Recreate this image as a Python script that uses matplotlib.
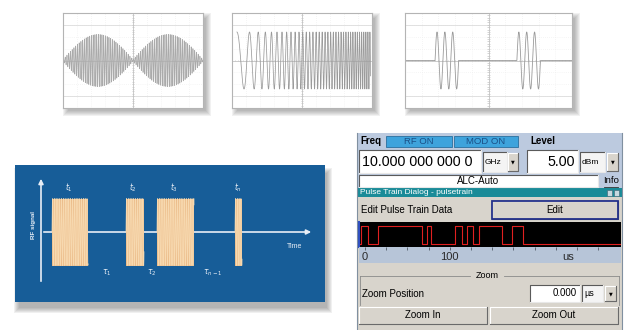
import numpy as np
import matplotlib.pyplot as plt
from matplotlib.patches import Rectangle
from matplotlib import font_manager

W, H = 624, 330

# --- scope 1: AM signal (x in divisions 0..10) ---
am_cycles_per_div = 8.0
am_floor = 0.08
am_peak = 2.2

# --- scope 2: chirp ---
chirp_start, chirp_end = 0.35, 9.9
chirp_f0, chirp_f1 = 0.82, 7.0     # cycles per division
chirp_amp = 2.4

# --- scope 3: bursts ---
burst_starts = [1.8, 6.7]
burst_cycles = 3
burst_period = 0.47
burst_amp = 2.4

# --- pulse diagram (blue panel, x in px from panel left) ---
pd_on = [(37, 73), (111, 129), (142, 179), (220, 227)]
pd_amp = 33.5
pd_carrier = 0.55              # cycles per px
pd_top_labels = [r'$t_1$', r'$t_2$', r'$t_3$', r'$t_n$']
pd_top_x = [54, 118, 159, 223]
pd_gap_labels = [r'$\tau_1$', r'$\tau_2$', r'$\tau_{n-1}$']
pd_gap_x = [92, 137, 198]

# --- pulse train trace in the dialog (µs) ---
trace_on = [(-5, 3.5), (15, 67), (73, 78), (106, 114), (120, 128), (135, 162), (174, 187)]
trace_ticks = [0, 25, 50, 75, 100, 125, 150, 175, 200, 225, 250, 275]
trace_label_pos = [0, 100, 240]
trace_labels = ['0', '100', 'us']

names = {f.name for f in font_manager.fontManager.ttflist}
narrow = 'Liberation Sans Narrow' in names
GUI = ['Liberation Sans', 'DejaVu Sans']
BIG = ['Liberation Sans Narrow', 'Liberation Sans', 'DejaVu Sans'] if narrow else GUI
big_size = 12.5 if narrow else 10.3

fig = plt.figure(figsize=(W / 100, H / 100), dpi=100)
ax = fig.add_axes([0, 0, 1, 1])
ax.set_xlim(0, W)
ax.set_ylim(H, 0)
ax.axis('off')


def px_axes(x0, y0, x1, y1, z=3):
    a = fig.add_axes([x0 / W, 1 - y1 / H, (x1 - x0) / W, (y1 - y0) / H])
    a.set_zorder(z)
    return a


def box(x0, y0, x1, y1, fc, ec='none', lw=0.8, z=2, alpha=1):
    ax.add_patch(Rectangle((x0, y0), x1 - x0, y1 - y0, facecolor=fc,
                           edgecolor=ec, lw=lw, zorder=z, alpha=alpha))


def shadow(x0, y0, x1, y1, dx=3, dy=4, a=0.07):
    for i in range(6):
        box(x0 + dx - i + 2, y0 + dy - i + 2, x1 + dx + i, y1 + dy + i,
            '#404040', z=1, alpha=a)


def raised(x0, y0, x1, y1, fc='#d8d4cc', z=4):
    box(x0, y0, x1, y1, fc, z=z)
    ax.plot([x0, x0, x1], [y1, y0, y0], color='white', lw=0.8, zorder=z + 0.1)
    ax.plot([x0, x1, x1], [y1, y1, y0], color='#6a6a6a', lw=0.8, zorder=z + 0.1)


def sunken(x0, y0, x1, y1, fc='white', z=4):
    box(x0, y0, x1, y1, fc, z=z)
    ax.plot([x0, x0, x1], [y1, y0, y0], color='#5a5a5a', lw=0.8, zorder=z + 0.1)
    ax.plot([x0, x1, x1], [y1, y1, y0], color='#e8e8e8', lw=0.8, zorder=z + 0.1)


def dropdown(x0, y0, x1, y1):
    raised(x0, y0, x1, y1)
    ax.text((x0 + x1) / 2, (y0 + y1) / 2, '▼', fontsize=3.5, ha='center',
            va='center', zorder=6, family=['DejaVu Sans'])


def scope(x0, y0, x1, y1):
    shadow(x0, y0, x1, y1, 3, 3)
    a = px_axes(x0, y0, x1, y1)
    a.set_xlim(0, 10)
    a.set_ylim(-4, 4)
    a.set_facecolor('white')
    for s in a.spines.values():
        s.set_color('#b4b4b4')
        s.set_linewidth(0.8)
    a.set_xticks([])
    a.set_yticks([])
    for g in range(1, 10):
        a.axvline(g, color='#ececec', lw=0.5, ls=(0, (1, 2)), zorder=0)
    for g in range(-3, 4):
        a.axhline(g, color='#ececec', lw=0.5, ls=(0, (1, 2)), zorder=0)
    a.axhline(3, color='#dcdcdc', lw=0.6, zorder=0)
    a.axhline(-3, color='#dcdcdc', lw=0.6, zorder=0)
    a.axvline(5, color='#c4c4c4', lw=0.6, zorder=0)
    a.axhline(0, color='#c4c4c4', lw=0.6, zorder=0)
    tk = np.arange(0, 10.01, 0.2)
    a.vlines(tk, -0.08, 0.08, color='#c4c4c4', lw=0.5, zorder=0)
    tk = np.arange(-4, 4.01, 0.2)
    a.hlines(tk, 4.92, 5.08, color='#c4c4c4', lw=0.5, zorder=0)
    return a


wave = '#9a9a9a'

# scope 1: AM
s1 = scope(63, 13, 203, 108)
x = np.linspace(0, 10, 8000)
env = am_floor + (am_peak - am_floor) * np.abs(np.sin(np.pi * x / 5))
s1.plot(x, env * np.sin(2 * np.pi * am_cycles_per_div * x), color='#aaaaaa', lw=0.5)

# scope 2: chirp
s2 = scope(232, 13, 372, 108)
L = chirp_end - chirp_start
u = np.linspace(0, L, 6000)
ph = 2 * np.pi * (chirp_f0 * u + (chirp_f1 - chirp_f0) * u ** 2 / (2 * L))
s2.plot(chirp_start + u, chirp_amp * np.cos(ph), color=wave, lw=0.55)

# scope 3: bursts
s3 = scope(405, 13, 572, 108)
x = np.linspace(0, 10, 4000)
y = np.zeros_like(x)
for b in burst_starts:
    m = (x >= b) & (x <= b + burst_cycles * burst_period)
    y[m] = burst_amp * np.sin(2 * np.pi * (x[m] - b) / burst_period)
s3.plot(x, y, color=wave, lw=0.6)

# --- blue pulse diagram ---
shadow(15, 165, 325, 302, 2, 6, 0.08)
bp = px_axes(15, 165, 325, 302)
bp.set_xlim(0, 310)
bp.set_ylim(-70, 67)
bp.set_facecolor('#175d98')
for s in bp.spines.values():
    s.set_visible(False)
bp.set_xticks([])
bp.set_yticks([])
bp.annotate('', xy=(299, 0), xytext=(26, 0),
            arrowprops=dict(arrowstyle='-|>', color='#e8eef6', lw=1.2, mutation_scale=7))
bp.annotate('', xy=(26, 56), xytext=(26, -52),
            arrowprops=dict(arrowstyle='-|>', color='#e8eef6', lw=1.2, mutation_scale=7))
for (a0, a1) in pd_on:
    bp.fill_between([a0, a1], -pd_amp, pd_amp, color='#ebbb88', lw=0, zorder=3)
    xx = np.linspace(a0, a1, 600)
    bp.plot(xx, pd_amp * np.sin(2 * np.pi * pd_carrier * (xx - a0)),
            color='#f7d9b0', lw=0.5, zorder=4)
for lab, xl in zip(pd_top_labels, pd_top_x):
    bp.text(xl, 44, lab, color='#e8eef6', fontsize=5.5, ha='center', va='center')
for lab, xl in zip(pd_gap_labels, pd_gap_x):
    bp.text(xl, -41, lab, color='#e8eef6', fontsize=5.5, ha='center', va='center')
bp.text(280, -14, 'Time', color='#e8eef6', fontsize=5, ha='center', va='center',
        family=GUI)
bp.text(18, 7, 'RF signal', color='#e8eef6', fontsize=4.5, ha='center', va='center',
        rotation=90, family=GUI, weight='bold')

# --- instrument GUI ---
box(357, 133, 622, 188, '#bccadf', z=2)
ax.text(360, 141, 'Freq', fontsize=7, weight='bold', va='center', family=GUI, zorder=5)
box(386, 136, 452, 147, '#3ea3dc', ec='#2a6f9e', lw=0.6, z=4)
box(454, 136, 518, 147, '#3ea3dc', ec='#2a6f9e', lw=0.6, z=4)
ax.text(419, 141.5, 'RF ON', fontsize=6.8, color='#1b4f86', ha='center', va='center',
        family=GUI, zorder=5)
ax.text(486, 141.5, 'MOD ON', fontsize=6.8, color='#1b4f86', ha='center', va='center',
        family=GUI, zorder=5)
ax.text(530, 141, 'Level', fontsize=7, weight='bold', va='center', family=GUI, zorder=5)

sunken(359, 150, 481, 173)
ax.text(362, 162, '10.000 000 000 0', fontsize=big_size, va='center', family=BIG, zorder=6)
sunken(483, 152, 507, 172, fc='#f4f4f4')
ax.text(485, 162, 'GHz', fontsize=6, va='center', family=GUI, zorder=6)
dropdown(508, 153, 518, 171)
sunken(527, 150, 578, 173)
ax.text(575, 162, '5.00', fontsize=big_size, va='center', ha='right', family=BIG, zorder=6)
sunken(580, 152, 605, 172, fc='#f4f4f4')
ax.text(582, 162, 'dBm', fontsize=6, va='center', family=GUI, zorder=6)
dropdown(607, 153, 618, 171)

sunken(359, 175, 598, 187)
ax.text(478, 181, 'ALC-Auto', fontsize=7, ha='center', va='center', family=GUI, zorder=6)
ax.text(611, 180.5, 'Info', fontsize=6.8, ha='center', va='center', family=GUI, zorder=6)
ax.plot([604, 618], [186.5, 186.5], color='#303030', lw=0.6, zorder=6)

# dialog title bar
box(357, 188, 622, 197, '#1a8b98', z=3)
ax.text(360, 192.5, 'Pulse Train Dialog - pulsetrain', fontsize=6, color='white',
        va='center', family=GUI, zorder=6)
box(607, 189.5, 612, 195.5, '#c8d8e0', ec='#406070', lw=0.4, z=5)
box(614, 189.5, 619, 195.5, '#c8d8e0', ec='#406070', lw=0.4, z=5)

box(357, 197, 622, 330, '#d8d4cc', z=2)
ax.text(361, 210, 'Edit Pulse Train Data', fontsize=7, va='center', family=GUI, zorder=6)
raised(492, 201, 618, 219)
box(492, 201, 618, 219, 'none', ec='#23308a', lw=1.3, z=5)
ax.text(555, 210, 'Edit', fontsize=7, ha='center', va='center', family=GUI, zorder=6)

# pulse trace
tr = px_axes(359, 222, 621, 247, z=4)
tr.set_facecolor('black')
tr.set_xlim(-7, 302)
tr.set_ylim(-0.15, 1.2)
tr.set_xticks([])
tr.set_yticks([])
for s in tr.spines.values():
    s.set_visible(False)
tr.spines['left'].set_visible(True)
tr.spines['left'].set_color('#3050c0')
tr.spines['left'].set_linewidth(1.5)
tx, ty = [-7], [0]
for (a0, a1) in trace_on:
    tx += [a0, a0, a1, a1]
    ty += [0, 1, 1, 0]
tx.append(302)
ty.append(0)
tr.plot(tx, ty, color='#e02020', lw=0.8)

st = px_axes(359, 247, 621, 263, z=4)
st.set_facecolor('#b7c5d8')
st.set_xlim(-7, 302)
st.set_ylim(0, 1)
st.set_xticks([])
st.set_yticks([])
for s in st.spines.values():
    s.set_visible(False)
st.vlines(trace_ticks, 0.8, 1.0, color='#505a66', lw=0.6)
for p, lab in zip(trace_label_pos, trace_labels):
    st.text(p, 0.38, lab, fontsize=8, ha='center', va='center', family=GUI,
            color='#2a2a2a')

# zoom group
ax.plot([360, 470], [276, 276], color='#8a8a8a', lw=0.6, zorder=5)
ax.plot([504, 619], [276, 276], color='#8a8a8a', lw=0.6, zorder=5)
ax.plot([360, 360], [276, 305], color='#8a8a8a', lw=0.6, zorder=5)
ax.plot([619, 619], [276, 305], color='#8a8a8a', lw=0.6, zorder=5)
ax.text(487, 276, 'Zoom', fontsize=6.5, ha='center', va='center', family=GUI, zorder=6)
ax.text(362, 294, 'Zoom Position', fontsize=7, va='center', family=GUI, zorder=6)
sunken(530, 285, 580, 302)
ax.text(577, 293.5, '0.000', fontsize=7, ha='right', va='center', family=GUI, zorder=6)
sunken(582, 285, 603, 302, fc='#f4f4f4')
ax.text(584, 293.5, 'µs', fontsize=6.5, va='center', family=GUI, zorder=6)
dropdown(605, 286, 616, 301)
raised(359, 307, 487, 324)
ax.text(423, 315.5, 'Zoom In', fontsize=7, ha='center', va='center', family=GUI, zorder=6)
raised(490, 307, 618, 324)
ax.text(554, 315.5, 'Zoom Out', fontsize=7, ha='center', va='center', family=GUI, zorder=6)

ax.plot([357, 357], [133, 330], color='#8090a0', lw=0.8, zorder=6)
ax.plot([622, 622], [133, 330], color='#8090a0', lw=0.8, zorder=6)

fig.savefig('out.png', dpi=100)
